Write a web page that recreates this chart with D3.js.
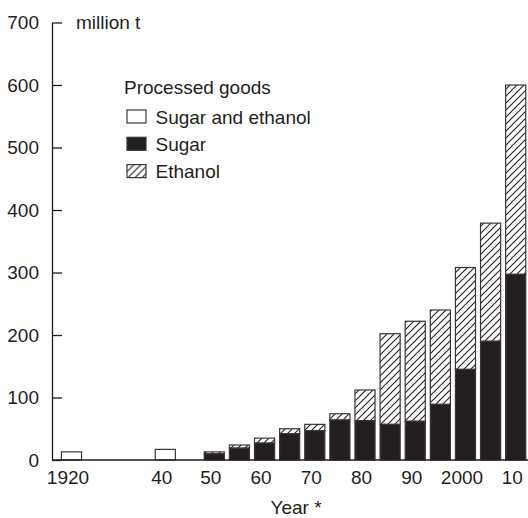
<!DOCTYPE html>
<html>
<head>
<meta charset="utf-8">
<script src="https://cdn.jsdelivr.net/npm/d3@7"></script>
<style>
  html, body { margin: 0; padding: 0; background: #fff; }
  text { font-family: "Liberation Sans", Arial, sans-serif; fill: #231f20; }
</style>
</head>
<body>
<svg id="chart" width="528" height="518"></svg>
<script>
// ---- data ----
const years    = [1920, 1940, 1950, 1955, 1960, 1965, 1970, 1975, 1980, 1985, 1990, 1995, 2000, 2005, 2010];
const combined = [13,   17,   0,    0,    0,    0,    0,    0,    0,    0,    0,    0,    0,    0,    0];
const sugar    = [0,    0,    10,   19,   27,   42,   47,   64,   63,   57,   62,   89,   145,  190,  297];
const ethanol  = [0,    0,    3,    5,    8,    8,    10,   10,   49,   145,  160,  151,  163,  189,  303];
const xTickValues = [1920, 1940, 1950, 1960, 1970, 1980, 1990, 2000, 2010];
const xTickLabels = ["1920", "40", "50", "60", "70", "80", "90", "2000", "10"];
const yTickValues = [0, 100, 200, 300, 400, 500, 600, 700];
const legendLabels = ["Sugar and ethanol", "Sugar", "Ethanol"];

const ink = "#231f20";
const svg = d3.select("#chart");

// pattern
const defs = svg.append("defs");
const pat = defs.append("pattern")
  .attr("id", "hatch").attr("patternUnits", "userSpaceOnUse")
  .attr("width", 7).attr("height", 7);
pat.append("rect").attr("width", 7).attr("height", 7).attr("fill", "#fff");
pat.append("path").attr("d", "M-1,8 L8,-1 M-2,2 L2,-2 M5,9 L9,5")
  .attr("stroke", ink).attr("stroke-width", 1.1);

// scales
const x = d3.scaleLinear()
  .domain([1920, 1940, 1950, 2010])
  .range([71.5, 165.3, 214.3, 515.7]);
const y = d3.scaleLinear().domain([0, 700]).range([460, 22.5]);
const bw = (x(1955) - x(1950)) * 0.8;

const data = years.map((yr, i) => ({ yr, c: combined[i], s: sugar[i], e: ethanol[i] }));

// bars
const g = svg.append("g");
function styl(sel) { return sel.attr("stroke", "#3a3637").attr("stroke-width", 1.2); }

styl(g.selectAll("rect.comb").data(data.filter(d => d.c > 0)).join("rect")
  .attr("class", "comb")
  .attr("x", d => x(d.yr) - bw / 2).attr("width", bw)
  .attr("y", d => y(d.c)).attr("height", d => y(0) - y(d.c))
  .attr("fill", "#fff"));

styl(g.selectAll("rect.eth").data(data.filter(d => d.e > 0)).join("rect")
  .attr("class", "eth")
  .attr("x", d => x(d.yr) - bw / 2).attr("width", bw)
  .attr("y", d => y(d.s + d.e)).attr("height", d => y(d.s) - y(d.s + d.e))
  .attr("fill", "url(#hatch)"));

styl(g.selectAll("rect.sug").data(data.filter(d => d.s > 0)).join("rect")
  .attr("class", "sug")
  .attr("x", d => x(d.yr) - bw / 2).attr("width", bw)
  .attr("y", d => y(d.s)).attr("height", d => y(0) - y(d.s))
  .attr("fill", ink));

// y axis
const yAxis = d3.axisLeft(y).tickValues(yTickValues).tickSizeInner(-10).tickSizeOuter(0).tickPadding(13);
const ya = svg.append("g").attr("transform", "translate(52,0)").call(yAxis);
ya.select(".domain").attr("stroke", ink).attr("stroke-width", 1.3);
ya.selectAll(".tick line").attr("stroke", ink).attr("stroke-width", 1.3);
ya.selectAll(".tick text").attr("font-size", 19).attr("fill", ink)
  .attr("font-family", '"Liberation Sans", Arial, sans-serif');

// x axis
const xAxis = d3.axisBottom(x).tickValues(xTickValues)
  .tickFormat((d, i) => xTickLabels[i]).tickSize(0).tickPadding(11);
const xa = svg.append("g").attr("transform", "translate(0,460)").call(xAxis);
xa.select(".domain").remove();
xa.append("line").attr("x1", 52).attr("x2", 528).attr("y1", 0).attr("y2", 0)
  .attr("stroke", ink).attr("stroke-width", 1.3);
xa.selectAll(".tick text").attr("font-size", 19).attr("fill", ink).attr("dx", -4)
  .attr("font-family", '"Liberation Sans", Arial, sans-serif');

// titles
svg.append("text").attr("x", 76).attr("y", 29).attr("font-size", 19).text("million t");
svg.append("text").attr("x", 296).attr("y", 513.5).attr("text-anchor", "middle")
  .attr("font-size", 19).text("Year *");

// legend
svg.append("text").attr("x", 124).attr("y", 94).attr("font-size", 19).text("Processed goods");
const fills = ["#fff", ink, "url(#hatch)"];
const lg = svg.append("g").selectAll("g").data(legendLabels).join("g")
  .attr("transform", (d, i) => `translate(127,${110 + i * 27.3})`);
lg.append("rect").attr("width", 19).attr("height", 13)
  .attr("fill", (d, i) => fills[i]).attr("stroke", "#3a3637").attr("stroke-width", 1.2);
lg.append("text").attr("x", 28.5).attr("y", 13.5).attr("font-size", 19).text(d => d);
</script>
</body>
</html>
